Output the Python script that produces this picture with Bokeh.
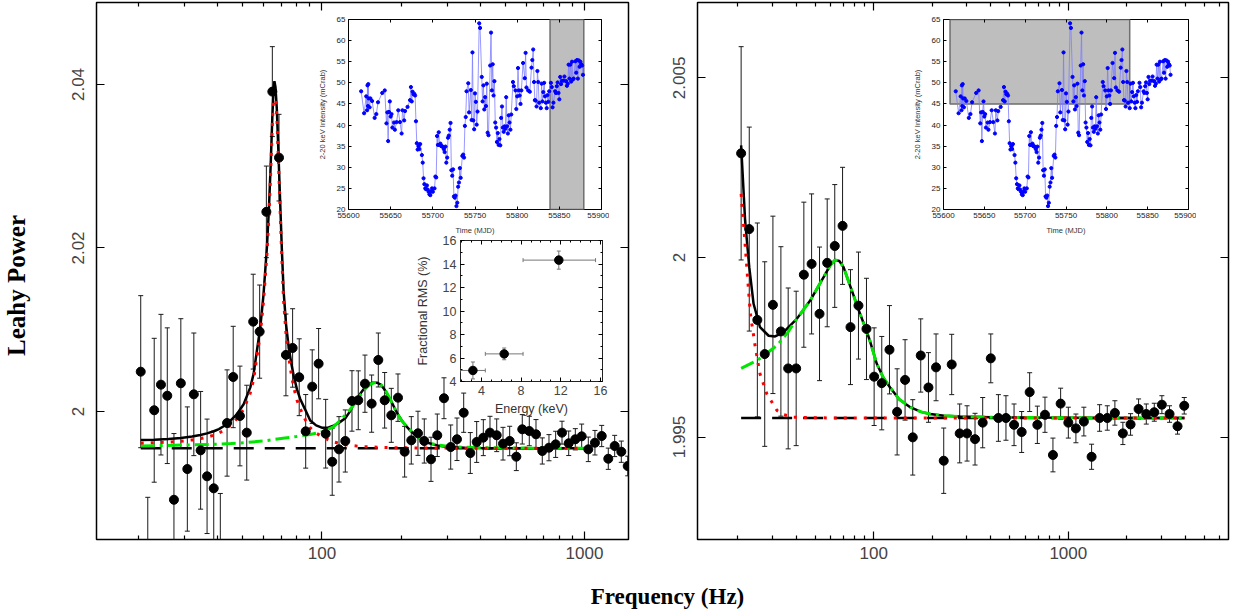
from bokeh.plotting import figure
from bokeh.models import (GridBox, LogAxis, LinearAxis, FixedTicker, PrintfTickFormatter,
                          CustomJSTickFormatter, Range1d)
from bokeh.core.properties import value
from bokeh.embed import file_html
from bokeh.resources import INLINE

SANS = "Liberation Sans"
SERIF = "Liberation Serif"

# ---------------- main power spectra ----------------
LEFT_FREQ = [20.4, 21.7, 22.96, 24.36, 25.75, 27.3, 29.0, 30.7, 32.5, 34.5,
             36.5, 38.7, 41.0, 43.5, 45.9, 48.7, 51.7, 54.7, 57.9, 61.4,
             64.7, 68.6, 72.9, 77.3, 81.9, 86.7, 91.8, 97.1, 103.3, 109.4,
             116.1, 122.7, 130.1, 137.5, 145.8, 154.6, 163.9, 173.3, 183.7, 194.8,
             206.5, 218.9, 232.1, 245.3, 260.2, 274.9, 291.6, 309.3, 326.8, 346.6,
             367.3, 388.5, 411.7, 436.5, 463.0, 489.3, 518.8, 549.9, 579.4, 616.2,
             653.5, 690.6, 732.3, 776.6, 821.0, 870.7, 922.6, 975.6, 1034, 1096,
             1163, 1232, 1303, 1381, 1461]
LEFT_POWER = [2.00487, 1.98050, 2.00015, 2.00328, 2.00193, 1.98920, 2.00345, 1.99296, 2.00210, 1.99525,
              1.99207, 1.99060, 1.98317, 1.99859, 2.00422, 1.99945, 1.99741, 2.01099, 2.00977, 2.02442,
              2.03913, 2.03105, 2.00692, 2.00777, 2.00419, 1.99757, 2.00304, 2.00585, 1.99728, 1.99385,
              1.99537, 1.99639, 2.00129, 2.00137, 2.00340, 2.00096, 2.00630, 2.00137, 1.99953, 2.00169,
              1.99508, 1.99647, 1.99733, 1.99639, 1.99415, 1.99709, 2.00162, 1.99565, 1.99660, 1.99985,
              1.99492, 1.99627, 1.99680, 1.99741, 1.99709, 1.99606, 1.99639, 1.99447, 1.99782, 1.99761,
              1.99721, 1.99517, 1.99557, 1.99598, 1.99741, 1.99611, 1.99660, 1.99696, 1.99537, 1.99618,
              1.99700, 1.99422, 1.99578, 1.99508, 1.99333]
LEFT_ERR = [0.0093, 0.0090, 0.0088, 0.0086, 0.0083, 0.0081, 0.0079, 0.0076, 0.0075, 0.0072,
            0.0070, 0.0070, 0.0068, 0.0065, 0.0062, 0.0061, 0.0058, 0.0058, 0.0057, 0.0056,
            0.0055, 0.0053, 0.0050, 0.0048, 0.0047, 0.0045, 0.0045, 0.0043, 0.0042, 0.0041,
            0.0040, 0.0038, 0.0037, 0.0036, 0.0035, 0.0035, 0.0033, 0.0034, 0.0033, 0.0029,
            0.0031, 0.0029, 0.0027, 0.0027, 0.0027, 0.0026, 0.0025, 0.0027, 0.0026, 0.0024,
            0.0025, 0.0025, 0.0022, 0.0020, 0.0020, 0.0020, 0.0018, 0.0017, 0.0018, 0.0018,
            0.0018, 0.0016, 0.0016, 0.0016, 0.0014, 0.0015, 0.0013, 0.0015, 0.0015, 0.0015,
            0.0013, 0.0013, 0.0013, 0.0013, 0.0012]

RIGHT_FREQ = [20.8, 22.9, 25.2, 27.5, 30.3, 33.3, 36.3, 39.9, 43.7, 47.9,
              52.6, 57.6, 63.0, 69.1, 75.9, 83.4, 91.7, 100.4, 109.9, 120.4,
              131.8, 144.8, 158.6, 174.3, 191.0, 208.9, 228.8, 251.5, 276.4, 301.5,
              331.4, 362.9, 399.4, 437, 478, 526, 575.6, 632.8, 693, 758.5,
              833.5, 912.9, 1000, 1094, 1202, 1317, 1448, 1586, 1735, 1907,
              2089, 2297, 2516, 2766, 3026, 3313, 3642, 3943]
RIGHT_POWER = [2.00290, 2.00079, 1.99826, 1.99731, 1.99868, 1.99794, 1.99691, 1.99691, 1.99952, 1.99982,
               1.99843, 1.99985, 2.00032, 2.00088, 1.99806, 1.99866, 1.99801, 1.99668, 1.99650, 1.99743,
               1.99570, 1.99659, 1.99499, 1.99727, 1.99638, 1.99694, 1.99434, 1.99702, 1.99510, 1.99510,
               1.99494, 1.99540, 1.99719, 1.99553, 1.99553, 1.99534, 1.99514, 1.99625, 1.99534, 1.99562,
               1.99450, 1.99593, 1.99540, 1.99524, 1.99543, 1.99445, 1.99553, 1.99553, 1.99567, 1.99510,
               1.99535, 1.99578, 1.99564, 1.99569, 1.99590, 1.99564, 1.99530, 1.99587]
RIGHT_ERR = [0.00297, 0.00284, 0.00270, 0.00257, 0.00247, 0.00236, 0.00224, 0.00215, 0.00202, 0.00195,
             0.00186, 0.00178, 0.00171, 0.00163, 0.00160, 0.00149, 0.00141, 0.00136, 0.00130, 0.00123,
             0.00120, 0.00112, 0.00105, 0.00102, 0.00097, 0.00093, 0.00091, 0.00084, 0.00082, 0.00077,
             0.00072, 0.00070, 0.00068, 0.00065, 0.00062, 0.00058, 0.00057, 0.00054, 0.00052, 0.00049,
             0.00047, 0.00043, 0.00043, 0.00040, 0.00040, 0.00035, 0.00037, 0.00034, 0.00034, 0.00031,
             0.00030, 0.00028, 0.00028, 0.00025, 0.00025, 0.00023, 0.00022, 0.00023]

# ---------------- fitted model curves ----------------
LEFT_MODEL_F = [20.4, 23, 26, 29, 32, 34.4, 36.5, 38.7, 40.5, 42.2,
                44.7, 47.4, 50.3, 53.3, 54.9, 56.5, 58.2, 59.9, 61.7, 62.8,
                63.8, 64.7, 65.4, 65.9, 66.5, 67.3, 68.2, 69.2, 70.3, 71.4,
                73, 74.6, 76.3, 78, 80.3, 82.7, 86.4, 90.2, 95, 100.4,
                106, 111.4, 117, 122.7, 127.5, 132.8, 136.8, 140.8, 145, 149.3,
                155.5, 162, 167.3, 172.7, 178, 183.3, 188.8, 194.4, 201.5, 209,
                216.6, 224.6, 238, 252.5, 275, 301.7, 350, 400, 500, 700, 1000]
LEFT_TOTAL = [1.99651, 1.99655, 1.99662, 1.99675, 1.99693, 1.99712, 1.99732, 1.99758, 1.99785, 1.99820,
              1.99884, 1.99966, 2.00088, 2.00292, 2.00460, 2.00740, 2.01025, 2.01434, 2.02010, 2.02480,
              2.03030, 2.03600, 2.03950, 2.04040, 2.03970, 2.03700, 2.03200, 2.02620, 2.02000, 2.01480,
              2.01060, 2.00800, 2.00600, 2.00440, 2.00270, 2.00150, 2.00020, 1.99890, 1.99830, 1.99800,
              1.99805, 1.99830, 1.99870, 1.99917, 1.99995, 2.00108, 2.00170, 2.00230, 2.00285, 2.00324,
              2.00350, 2.00353, 2.00330, 2.00272, 2.00200, 2.00129, 2.00045, 1.99966, 1.99890, 1.99823,
              1.99768, 1.99721, 1.99660, 1.99618, 1.99585, 1.99565, 1.99557, 1.99553, 1.99551, 1.99550, 1.99550]
LEFT_QPO1 = [1.99612, 1.99618, 1.99625, 1.99636, 1.99652, 1.99668, 1.99685, 1.99710, 1.99735, 1.99768,
             1.99830, 1.99910, 2.00025, 2.00225, 2.00390, 2.00665, 2.00945, 2.01350, 2.01925, 2.02395,
             2.02945, 2.03510, 2.03860, 2.03950, 2.03880, 2.03610, 2.03110, 2.02510, 2.01890, 2.01360,
             2.00940, 2.00680, 2.00470, 2.00300, 2.00140, 2.00030, 1.99900, 1.99800, 1.99735, 1.99690,
             1.99650, 1.99625, 1.99608, 1.99595, 1.99587, 1.99580, 1.99576, 1.99573, 1.99570, 1.99568,
             1.99565, 1.99563, 1.99561, 1.99560, 1.99559, 1.99558, 1.99557, 1.99556, 1.99555, 1.99555,
             1.99554, 1.99554, 1.99553, 1.99553, 1.99552, 1.99552, 1.99551, 1.99551, 1.99550, 1.99550, 1.99550]
LEFT_QPO2_F = [20.4, 25, 30, 38.7, 45, 51.7, 60, 71, 80, 90,
               99, 107, 111, 118, 125, 133, 140.8, 147, 153, 158,
               162, 166, 171, 178, 186, 194, 202, 211, 224, 238,
               255, 275, 300, 330, 400, 600, 1000]
LEFT_QPO2 = [1.99578, 1.99584, 1.99590, 1.99598, 1.99608, 1.99620, 1.99640, 1.99672, 1.99695, 1.99718,
             1.99748, 1.99790, 1.99815, 1.99900, 1.99985, 2.00090, 2.00210, 2.00285, 2.00333, 2.00350,
             2.00353, 2.00340, 2.00300, 2.00210, 2.00090, 1.99966, 1.99880, 1.99814, 1.99730, 1.99660,
             1.99618, 1.99590, 1.99575, 1.99565, 1.99557, 1.99552, 1.99550]
LEFT_CONST = 1.9955
LEFT_CONST_SPAN = [20.4, 1000]

RIGHT_MODEL_F = [20.8, 21.8, 22.9, 24.1, 26.0, 28.8, 31.1, 34.4, 40.2, 47.1,
                 55.2, 60, 63.3, 66.5, 69.9, 74, 78.6, 83.4, 88.5, 91.7,
                 95.5, 103.6, 112, 121.3, 135, 153.8, 175, 194.8, 230, 277.8,
                 400, 700, 1500, 3950]
RIGHT_TOTAL = [2.00312, 2.00103, 1.99973, 1.99871, 1.99806, 1.99782, 1.99780, 1.99792, 1.99829, 1.99880,
               1.99945, 1.99980, 1.99993, 1.99990, 1.99973, 1.99935, 1.99895, 1.99855, 1.99818, 1.99796,
               1.99768, 1.99704, 1.99665, 1.99638, 1.99605, 1.99583, 1.99570, 1.99564, 1.99559, 1.99557,
               1.99555, 1.99554, 1.99553, 1.99553]
RIGHT_QPO1_F = [20.8, 21.6, 22.5, 23.2, 24.6, 26, 28.2, 31.8, 34.5, 38.7, 60, 3950]
RIGHT_QPO1 = [2.00177, 2.00066, 1.99936, 1.99843, 1.99750, 1.99676, 1.99620, 1.99574, 1.99562, 1.99555,
              1.99553, 1.99553]
RIGHT_QPO2_F = [20.8, 25.1, 28, 31.8, 36, 40.2, 47.1, 55.2, 60, 63.3,
                66.5, 69.9, 74, 78.6, 83.4, 88.5, 91.7, 95.5, 103.6, 112,
                121.3, 135, 153.8, 175, 194.8, 230, 277.8, 400, 700, 1500, 3950]
RIGHT_QPO2 = [1.99691, 1.99713, 1.99732, 1.99755, 1.99790, 1.99829, 1.99880, 1.99945, 1.99980, 1.99993,
              1.99990, 1.99973, 1.99935, 1.99895, 1.99855, 1.99818, 1.99796, 1.99768, 1.99704, 1.99665,
              1.99638, 1.99605, 1.99583, 1.99570, 1.99564, 1.99559, 1.99557, 1.99555, 1.99554, 1.99553, 1.99553]
RIGHT_CONST = 1.99553
RIGHT_CONST_SPAN = [20.8, 3950]

# ---------------- light curve inset ----------------
LC_MJD = [55615, 55618.5, 55621, 55622, 55622.5, 55623, 55623.5, 55624, 55625, 55626,
          55628, 55631, 55633, 55635, 55640, 55643, 55645, 55646, 55647, 55648,
          55649, 55650, 55651, 55652, 55654, 55655, 55657, 55659, 55661, 55663,
          55664, 55666, 55667, 55670, 55673, 55674, 55675, 55676, 55677, 55678,
          55679, 55680, 55681, 55682, 55683, 55684, 55685, 55687, 55688, 55689,
          55690, 55691, 55692, 55693, 55694, 55695, 55696, 55697, 55698, 55699,
          55700, 55702, 55703, 55704, 55705, 55706, 55707, 55708, 55709, 55710,
          55711, 55712, 55713, 55714, 55715, 55716, 55717, 55718, 55719, 55720,
          55721, 55722, 55723, 55724, 55725, 55726, 55727, 55728, 55729, 55730,
          55731, 55732, 55733, 55735, 55736, 55737, 55738, 55739, 55740, 55742,
          55743, 55745, 55746, 55747, 55748, 55749, 55750, 55751, 55752, 55753,
          55755, 55756, 55758, 55759, 55760, 55761, 55762, 55763, 55764, 55765,
          55766, 55768, 55769, 55770, 55771, 55772, 55773, 55774, 55775, 55776,
          55777, 55778, 55779, 55780, 55781, 55782, 55783, 55784, 55785, 55786,
          55787, 55788, 55789, 55790, 55791, 55792, 55793, 55795, 55796, 55798,
          55799, 55800, 55801, 55802, 55803, 55804, 55805, 55807, 55809, 55810,
          55811, 55813, 55815, 55817, 55818, 55819, 55820, 55821, 55822, 55823,
          55824, 55825, 55826, 55828, 55829, 55830, 55831, 55832, 55833, 55834,
          55835, 55836, 55837, 55838, 55840, 55841, 55842, 55843, 55845, 55846,
          55847, 55848, 55849, 55850, 55851, 55852, 55853, 55855, 55856, 55858,
          55859, 55860, 55861, 55862, 55863, 55864, 55865, 55866, 55867, 55869,
          55870, 55871, 55872, 55873, 55874, 55875, 55876, 55877, 55878]
LC_RATE = [48.0, 42.8, 46.8, 43.5, 49.4, 44.5, 49.7, 46.3, 44.2, 46.3,
           45.7, 41.7, 42.6, 45.4, 47.6, 48.2, 40.4, 43.0, 36.2, 43.1,
           45.6, 42.0, 42.6, 39.4, 40.6, 38.9, 40.7, 43.5, 40.7, 38.0,
           43.5, 41.1, 43.3, 44.3, 45.9, 49.0, 45.6, 47.9, 47.3, 47.4,
           47.0, 40.9, 35.7, 34.2, 35.0, 34.3, 35.5, 32.9, 31.1, 27.4,
           26.0, 25.0, 24.8, 25.7, 24.7, 24.2, 23.6, 23.4, 24.3, 25.0,
           24.2, 25.0, 27.8, 27.6, 37.4, 35.3, 38.3, 35.3, 35.6, 35.0,
           35.0, 34.8, 34.3, 33.6, 34.9, 31.1, 32.3, 37.0, 37.5, 38.9,
           40.5, 29.3, 28.0, 29.5, 23.1, 22.8, 23.3, 20.8, 21.6, 25.4,
           26.4, 29.8, 27.5, 32.7, 33.0, 32.3, 39.8, 41.9, 48.0, 49.9,
           43.0, 48.3, 41.2, 57.2, 41.1, 39.0, 47.5, 45.5, 40.1, 43.2,
           64.1, 63.0, 51.4, 45.6, 49.4, 43.7, 46.6, 44.5, 49.8, 38.2,
           37.6, 54.1, 61.9, 48.2, 54.4, 47.0, 50.4, 40.6, 39.4, 36.0,
           38.1, 35.3, 36.7, 35.2, 41.7, 44.4, 39.4, 38.4, 39.7, 39.1,
           46.6, 39.7, 38.0, 42.3, 40.6, 38.9, 42.5, 50.2, 49.2, 48.2,
           43.8, 46.8, 53.5, 48.2, 47.0, 45.0, 48.2, 54.7, 51.1, 57.1,
           48.9, 48.2, 47.9, 53.6, 55.4, 57.9, 50.2, 45.9, 45.8, 44.4,
           52.8, 50.2, 45.3, 44.0, 49.8, 45.6, 47.8, 50.0, 46.8, 45.3,
           44.0, 47.1, 45.5, 48.0, 50.0, 49.0, 44.2, 45.3, 48.0, 47.6,
           49.2, 50.1, 47.6, 46.1, 51.4, 49.7, 50.5, 50.5, 51.5, 50.4,
           49.3, 49.8, 54.3, 51.0, 54.3, 50.3, 55.0, 50.8, 51.0, 55.1,
           52.4, 55.4, 51.0, 55.3, 53.8, 55.0, 54.4, 54.1, 51.9]
LC_XTICKS = [55600, 55650, 55700, 55750, 55800, 55850, 55900]
LC_YTICKS = [20, 25, 30, 35, 40, 45, 50, 55, 60, 65]
SHADE_LEFT = [55839, 55879, 20, 65]     # left, right, bottom, top
SHADE_RIGHT = [55608, 55828, 45, 65]

# ---------------- fractional rms inset ----------------
RMS_E = [3.15, 6.3, 11.8]
RMS_ELO = [1.9, 4.4, 8.2]
RMS_EHI = [4.4, 8.2, 15.5]
RMS_VAL = [4.94, 6.35, 14.33]
RMS_ERR = [0.72, 0.50, 0.77]
RMS_XTICKS = [4, 8, 12, 16]
RMS_YTICKS = [4, 6, 8, 10, 12, 14, 16]

X_MAJOR = [100, 1000]
X_MINOR = [m * 10 ** k for k in (1, 2, 3) for m in range(2, 10)]
LEFT_YTICKS = [2.0, 2.02, 2.04]
RIGHT_YTICKS = [1.995, 2.0, 2.005]

TITLE_Y = "Leahy Power"
TITLE_X = "Frequency (Hz)"


def ticks_in(ax, major, minor, width=1.2):
    ax.major_tick_in = major
    ax.major_tick_out = 0
    ax.minor_tick_in = minor
    ax.minor_tick_out = 0
    ax.major_tick_line_color = "black"
    ax.minor_tick_line_color = "black"
    ax.major_tick_line_width = width
    ax.minor_tick_line_width = width
    ax.axis_line_color = None


def mirror_axis(p, place, ticker, log, major, minor, width=1.2):
    cls = LogAxis if log else LinearAxis
    ax = cls(ticker=ticker, formatter=CustomJSTickFormatter(code="return ''"))
    ax.major_label_text_font_size = "0px"
    ax.major_label_standoff = 0
    ticks_in(ax, major, minor, width)
    p.add_layout(ax, place)


def main_panel(freq, power, err, tot_f, tot, q1_f, q1, q2_f, q2, const, span,
               xr, yr, yticks, border_left, frame_w):
    p = figure(x_axis_type="log", x_range=Range1d(*xr), y_range=Range1d(*yr),
               frame_width=frame_w, frame_height=537,
               min_border_left=border_left, min_border_right=8,
               min_border_top=2, min_border_bottom=40,
               output_backend="svg", toolbar_location=None)
    p.grid.visible = False
    p.outline_line_color = "black"
    p.outline_line_width = 1.5
    p.background_fill_color = "white"
    p.border_fill_alpha = 0

    xt = FixedTicker(ticks=X_MAJOR, minor_ticks=X_MINOR)
    yt = FixedTicker(ticks=yticks, minor_ticks=[])
    xa = p.xaxis[0]
    xa.ticker = xt
    xa.formatter = PrintfTickFormatter(format="%d")
    xa.major_label_text_font = SANS
    xa.major_label_text_font_size = "17px"
    xa.major_label_standoff = 7
    ticks_in(xa, 8, 4)
    ya = p.yaxis[0]
    ya.ticker = yt
    ya.formatter = PrintfTickFormatter(format="%g")
    ya.major_label_orientation = "vertical"
    ya.major_label_text_font = SANS
    ya.major_label_text_font_size = "17px"
    ya.major_label_standoff = 12
    ticks_in(ya, 8, 4)
    mirror_axis(p, "above", xt, True, 8, 4)
    mirror_axis(p, "right", yt, False, 8, 4)

    lo = [y - e for y, e in zip(power, err)]
    hi = [y + e for y, e in zip(power, err)]
    p.segment(freq, lo, freq, hi, line_color="#1a1a1a", line_width=1)
    p.scatter(freq, hi, marker="dash", size=5, line_color="#1a1a1a", line_width=1)
    p.scatter(freq, lo, marker="dash", size=5, line_color="#1a1a1a", line_width=1)

    p.line(span, [const, const], line_color="black", line_width=2.5, line_dash="20 11")
    p.line(tot_f, tot, line_color="black", line_width=2.5)
    p.line(q2_f, q2, line_color="#00e600", line_width=3, line_dash="14 5 3 5")
    p.line(q1_f, q1, line_color="#ff0000", line_width=3, line_dash="3 7")
    p.scatter(freq, power, size=9, color="black")
    return p


def lc_inset(shade, fw):
    p = figure(x_range=Range1d(55600, 55900), y_range=Range1d(20, 65),
               frame_width=fw, frame_height=190,
               min_border_left=35, min_border_right=8, min_border_top=5, min_border_bottom=32,
               output_backend="svg", toolbar_location=None)
    p.grid.visible = False
    p.outline_line_color = "black"
    p.outline_line_width = 1
    p.background_fill_color = "white"
    p.border_fill_alpha = 0
    xt = FixedTicker(ticks=LC_XTICKS, minor_ticks=[])
    yt = FixedTicker(ticks=LC_YTICKS, minor_ticks=[])
    xa, ya = p.xaxis[0], p.yaxis[0]
    xa.ticker = xt
    ya.ticker = yt
    for ax in (xa, ya):
        ticks_in(ax, 3, 0, 1)
        ax.major_label_text_font = SANS
        ax.major_label_text_font_size = "8px"
        ax.major_label_text_color = "#222"
        ax.major_label_standoff = 3
        ax.axis_label_text_font = SANS
        ax.axis_label_text_font_size = "7.5px"
        ax.axis_label_text_font_style = "normal"
        ax.axis_label_text_color = "#333"
        ax.axis_label_standoff = 5
    xa.axis_label = "Time (MJD)"
    ya.axis_label = "2-20 keV Intensity (mCrab)"
    ya.axis_label_standoff = 7
    mirror_axis(p, "above", xt, False, 3, 0, 1)
    mirror_axis(p, "right", yt, False, 3, 0, 1)
    p.quad(left=shade[0], right=shade[1], bottom=shade[2], top=shade[3],
           fill_color="#bebebe", line_color="#6e6e6e", line_width=1.5)
    p.line(LC_MJD, LC_RATE, line_color="#7d7dff", line_width=0.8)
    p.scatter(LC_MJD, LC_RATE, size=3.2, color="#0000ff")
    return p


def rms_inset():
    p = figure(x_range=Range1d(1.9, 16.2), y_range=Range1d(4, 16),
               frame_width=142, frame_height=141,
               min_border_left=57, min_border_right=8, min_border_top=7, min_border_bottom=46,
               output_backend="svg", toolbar_location=None)
    p.grid.visible = False
    p.outline_line_color = "#222"
    p.outline_line_width = 1
    p.background_fill_color = "white"
    p.border_fill_alpha = 0
    xt = FixedTicker(ticks=RMS_XTICKS, minor_ticks=list(range(2, 17)))
    yt = FixedTicker(ticks=RMS_YTICKS, minor_ticks=list(range(4, 17)))
    xa, ya = p.xaxis[0], p.yaxis[0]
    xa.ticker = xt
    ya.ticker = yt
    for ax in (xa, ya):
        ticks_in(ax, 4, 2, 1)
        ax.major_label_text_font = SANS
        ax.major_label_text_font_size = "12.5px"
        ax.major_label_standoff = 4
        ax.axis_label_text_font = SANS
        ax.axis_label_text_font_size = "12.5px"
        ax.axis_label_text_font_style = "normal"
        ax.axis_label_text_color = "#333"
        ax.axis_label_standoff = 4
    xa.axis_label = "Energy (keV)"
    ya.axis_label = "Fractional RMS (%)"
    ya.axis_label_standoff = 10
    mirror_axis(p, "above", xt, False, 4, 2, 1)
    mirror_axis(p, "right", yt, False, 4, 2, 1)
    lo = [v - e for v, e in zip(RMS_VAL, RMS_ERR)]
    hi = [v + e for v, e in zip(RMS_VAL, RMS_ERR)]
    p.segment(RMS_ELO, RMS_VAL, RMS_EHI, RMS_VAL, line_color="#777", line_width=1)
    p.segment(RMS_E, lo, RMS_E, hi, line_color="#777", line_width=1)
    p.scatter(RMS_E, hi, marker="dash", size=4, line_color="#777")
    p.scatter(RMS_E, lo, marker="dash", size=4, line_color="#777")
    p.scatter(RMS_ELO, RMS_VAL, marker="dash", angle=1.5708, size=4, line_color="#777")
    p.scatter(RMS_EHI, RMS_VAL, marker="dash", angle=1.5708, size=4, line_color="#777")
    p.scatter(RMS_E, RMS_VAL, size=8.5, color="black")
    return p


def title_fig(w, h, x, y, text, size, angle=0.0):
    f = figure(width=w, height=h, x_range=Range1d(0, w), y_range=Range1d(0, h),
               min_border=0, output_backend="svg", toolbar_location=None,
               x_axis_type=None, y_axis_type=None)
    f.outline_line_color = None
    f.background_fill_alpha = 0
    f.border_fill_alpha = 0
    f.text(x=[x], y=[y], text=[text], angle=angle, text_align="center",
           text_baseline="middle", text_font=value(SERIF), text_font_style="bold",
           text_font_size=size, text_color="black")
    return f


p_left = main_panel(LEFT_FREQ, LEFT_POWER, LEFT_ERR, LEFT_MODEL_F, LEFT_TOTAL,
                    LEFT_MODEL_F, LEFT_QPO1, LEFT_QPO2_F, LEFT_QPO2, LEFT_CONST, LEFT_CONST_SPAN,
                    (13.84, 1471), (1.98434, 2.05003), LEFT_YTICKS, 96, 532)
p_right = main_panel(RIGHT_FREQ, RIGHT_POWER, RIGHT_ERR, RIGHT_MODEL_F, RIGHT_TOTAL,
                     RIGHT_QPO1_F, RIGHT_QPO1, RIGHT_QPO2_F, RIGHT_QPO2, RIGHT_CONST, RIGHT_CONST_SPAN,
                     (12.41, 6658), (1.992146, 2.0071), RIGHT_YTICKS, 47, 531)
lc_left = lc_inset(SHADE_LEFT, 253)
lc_right = lc_inset(SHADE_RIGHT, 245)
rms = rms_inset()
xlab = title_fig(220, 34, 107, 17, TITLE_X, "23px")
ylab = title_fig(38, 190, 14, 95, TITLE_Y, "25px", angle=1.5708)

# column starts: 0, 2, 40, 313, 403, 560, 650, 908
# row starts:    0, 14, 190, 233, 241, 380, 427, 579
grid = GridBox(children=[(p_left, 0, 0, 7, 6), (p_right, 0, 6, 7, 2),
                         (lc_left, 1, 3, 3, 3), (rms, 3, 4, 3, 2),
                         (lc_right, 1, 7, 3, 1), (xlab, 7, 5, 1, 2),
                         (ylab, 2, 1, 3, 1)],
               rows=["14px", "176px", "43px", "8px", "139px", "47px", "152px", "34px"],
               cols=["2px", "38px", "273px", "90px", "157px", "90px", "258px", "352px"],
               spacing=0)

open("out.html", "w").write(file_html(grid, INLINE))
